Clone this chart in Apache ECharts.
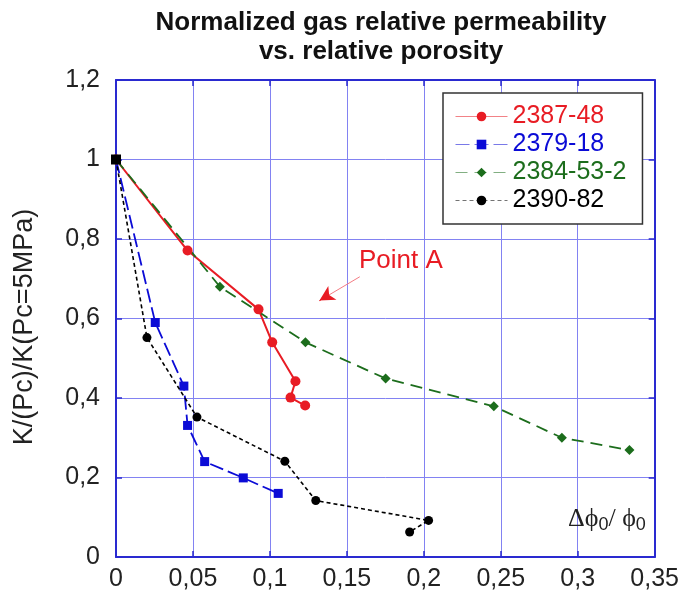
<!DOCTYPE html>
<html>
<head>
<meta charset="utf-8">
<script src="https://cdn.jsdelivr.net/npm/echarts@6/dist/echarts.min.js"></script>
<style>
  html, body { margin: 0; padding: 0; background: #fff; }
  #chart { width: 682px; height: 592px; }
</style>
</head>
<body>
<div id="chart"></div>
<script>
// values
let seriesNames = ['2387-48', '2379-18', '2384-53-2', '2390-82'];
let x238748 = [0, 0.0465, 0.0926, 0.1015, 0.1166, 0.1134, 0.1229];
let y238748 = [1, 0.771, 0.623, 0.540, 0.442, 0.401, 0.381];
let x237918 = [0, 0.0255, 0.0441, 0.0465, 0.0576, 0.0827, 0.1054];
let y237918 = [1, 0.590, 0.430, 0.331, 0.240, 0.199, 0.160];
let x2384532 = [0, 0.0675, 0.1231, 0.1752, 0.2455, 0.2897, 0.3336];
let y2384532 = [1, 0.680, 0.540, 0.449, 0.379, 0.300, 0.269];
let x239082 = [0, 0.0201, 0.0526, 0.1097, 0.1298, 0.2031, 0.1908];
let y239082 = [1, 0.552, 0.352, 0.241, 0.142, 0.092, 0.063];
// "Point A" arrow, tail -> head, in data units
let arrowFrom = [0.1584, 0.705];
let arrowTo = [0.1322, 0.645];

let colors = ['#e81c24', '#0b0bd6', '#1c6d1c', '#000000'];
let axisBlue = '#2a2ad0';
let gridBlue = '#8282f2';
let sans = 'Liberation Sans, Arial, sans-serif';

let chartDom = document.getElementById('chart');
let myChart = echarts.init(chartDom);
let option;

function pairs(xs, ys) {
  return xs.map(function (x, i) { return [x, ys[i]]; });
}

function fmt(v) {
  return String(+v.toFixed(2)).replace('.', ',');
}

let blackData = pairs(x239082, y239082).map(function (p, i) {
  // first black point shows as a square in the reference
  return i === 0 ? { value: p, symbol: 'rect', symbolSize: 10 } : p;
});

// short piece near the tip so the arrow head can be full red
let headStart = [
  arrowTo[0] + (arrowFrom[0] - arrowTo[0]) * 0.2,
  arrowTo[1] + (arrowFrom[1] - arrowTo[1]) * 0.2
];

function sideAxis(pos, isX) {
  return {
    type: 'value',
    position: pos,
    min: 0,
    max: isX ? 0.35 : 1.2,
    interval: isX ? 0.05 : 0.2,
    axisLine: { show: true, onZero: false, lineStyle: { color: axisBlue, width: 2 } },
    axisTick: { show: true, inside: true, length: 6, lineStyle: { color: axisBlue, width: 1.5 } },
    axisLabel: { show: false },
    splitLine: { show: false }
  };
}

option = {
  animation: false,
  backgroundColor: '#fff',
  color: colors,
  title: {
    text: 'Normalized gas relative permeability\nvs. relative porosity',
    left: 381,
    top: 8,
    padding: 0,
    textAlign: 'center',
    textStyle: {
      fontFamily: sans,
      fontSize: 26,
      fontWeight: 'bold',
      color: '#111',
      lineHeight: 29
    }
  },
  grid: {
    left: 116,
    right: 27,
    top: 80,
    bottom: 35,
    containLabel: false
  },
  legend: {
    orient: 'vertical',
    left: 443,
    top: 93,
    padding: [11, 16, 11, 12],
    itemWidth: 52,
    itemHeight: 12,
    itemGap: 3,
    backgroundColor: '#fff',
    borderColor: '#333',
    borderWidth: 1.5,
    borderRadius: 0,
    textStyle: { fontFamily: sans, fontSize: 25 },
    data: seriesNames.map(function (n, i) {
      return { name: n, textStyle: { color: colors[i] }, lineStyle: { width: 1, opacity: 0.55 } };
    })
  },
  xAxis: [
    {
      type: 'value',
      min: 0,
      max: 0.35,
      interval: 0.05,
      axisLine: { show: true, onZero: false, lineStyle: { color: axisBlue, width: 2 } },
      axisTick: { show: true, inside: true, length: 6, lineStyle: { color: axisBlue, width: 1.5 } },
      axisLabel: { margin: 10, fontFamily: sans, fontSize: 25, color: '#222', formatter: fmt },
      splitLine: { show: true, lineStyle: { color: gridBlue, width: 1 } }
    },
    sideAxis('top', true)
  ],
  yAxis: [
    {
      type: 'value',
      min: 0,
      max: 1.2,
      interval: 0.2,
      axisLine: { show: true, onZero: false, lineStyle: { color: axisBlue, width: 2 } },
      axisTick: { show: true, inside: true, length: 6, lineStyle: { color: axisBlue, width: 1.5 } },
      axisLabel: { margin: 16, fontFamily: sans, fontSize: 25, color: '#222', formatter: fmt },
      splitLine: { show: true, lineStyle: { color: gridBlue, width: 1 } }
    },
    sideAxis('right', false)
  ],
  graphic: [
    {
      type: 'text',
      x: 25,
      y: 327,
      rotation: Math.PI / 2,
      style: {
        text: 'K/(Pc)/K(Pc=5MPa)',
        fontFamily: sans,
        fontSize: 27,
        fill: '#222',
        align: 'center',
        verticalAlign: 'middle'
      }
    },
    {
      type: 'text',
      left: 359,
      top: 248,
      z: 10,
      style: {
        text: 'Point A',
        fontFamily: sans,
        fontSize: 26,
        fill: '#e81c24'
      }
    },
    {
      type: 'text',
      left: 568,
      top: 506,
      z: 10,
      style: {
        text: '{m|Δϕ}{s|0}{m|/ ϕ}{s|0}',
        fill: '#222',
        rich: {
          m: { fontFamily: 'Liberation Serif, serif', fontSize: 26, lineHeight: 30, fill: '#222' },
          s: { fontFamily: sans, fontSize: 18, lineHeight: 16, verticalAlign: 'bottom', fill: '#222' }
        }
      }
    }
  ],
  series: [
    {
      name: seriesNames[0],
      type: 'line',
      symbol: 'circle',
      symbolSize: 10,
      z: 3,
      lineStyle: { width: 2, color: colors[0] },
      itemStyle: { color: colors[0] },
      data: pairs(x238748, y238748),
      markLine: {
        silent: true,
        animation: false,
        label: { show: false },
        emphasis: { disabled: true },
        data: [
          [
            { coord: arrowFrom, symbol: 'none', lineStyle: { color: '#f47c84', width: 1, type: 'solid' } },
            { coord: arrowTo, symbol: 'none' }
          ],
          [
            { coord: headStart, symbol: 'none', lineStyle: { color: '#e81c24', width: 1, type: 'solid' } },
            { coord: arrowTo, symbol: 'arrow', symbolSize: [12, 15] }
          ]
        ]
      }
    },
    {
      name: seriesNames[1],
      type: 'line',
      symbol: 'rect',
      symbolSize: 9,
      z: 3,
      lineStyle: { width: 1.8, color: colors[1], type: [14, 5] },
      itemStyle: { color: colors[1] },
      data: pairs(x237918, y237918)
    },
    {
      name: seriesNames[2],
      type: 'line',
      symbol: 'diamond',
      symbolSize: 10,
      z: 3,
      lineStyle: { width: 1.8, color: colors[2], type: [12, 7] },
      itemStyle: { color: colors[2] },
      data: pairs(x2384532, y2384532)
    },
    {
      name: seriesNames[3],
      type: 'line',
      symbol: 'circle',
      symbolSize: 9,
      z: 4,
      lineStyle: { width: 1.6, color: colors[3], type: [4, 3] },
      itemStyle: { color: colors[3] },
      data: blackData
    }
  ]
};

option && myChart.setOption(option);
</script>
</body>
</html>
